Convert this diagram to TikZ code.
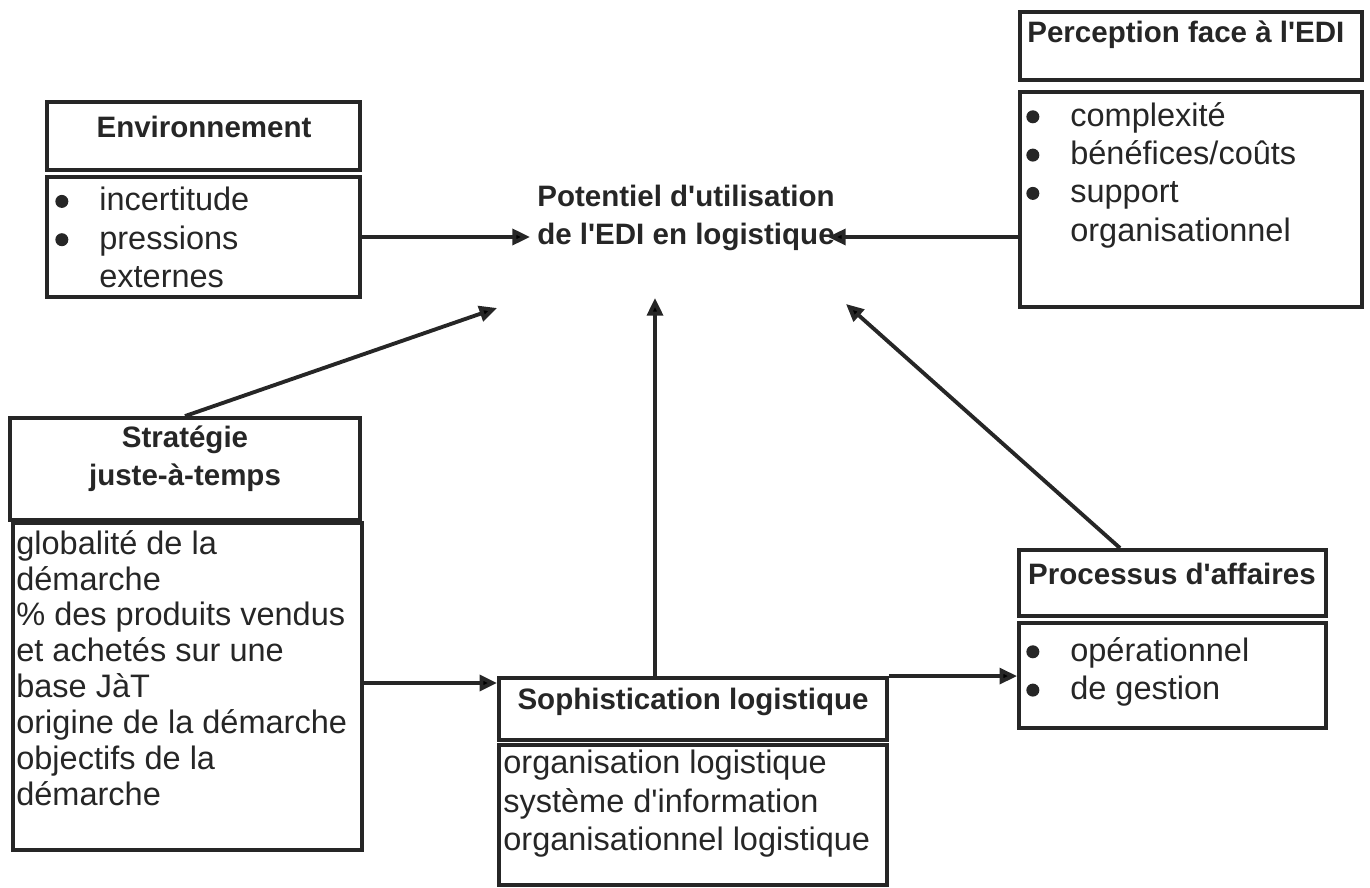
\documentclass[tikz,border=0pt]{standalone}
\usepackage{fontspec}
\setmainfont{Liberation Sans}
\usetikzlibrary{arrows.meta, positioning, calc, fit}

\newcommand{\puce}{\makebox[0.92cm][l]{\hspace{0.04cm}\tikz[baseline=0pt, x=1pt, y=1pt]\fill[black!85] (0,5.4) circle[radius=3.7pt];}}
\newcommand{\retrait}{\makebox[0.92cm]{}}
\newcommand{\apos}{\textquotesingle}

\begin{document}
\begin{tikzpicture}[
    x=0.02cm, y=-0.02cm,
    >={Triangle[length=10pt, width=9pt]},
    box/.style={draw=black!85, line width=2.2pt, inner sep=0pt},
    headtxt/.style={font=\fontsize{16.8}{21.5}\selectfont\bfseries, align=center, inner sep=0pt, text=black!85},
    bodytxt/.style={font=\fontsize{18.5}{21.8}\selectfont, align=left, inner sep=0pt, anchor=north west, text=black!85},
    arr/.style={draw=black!85, line width=2.2pt, ->}
]
\useasboundingbox (0,0) rectangle (1370,888);

% ==================== CENTRE ====================
\node[headtxt] (potentiel) at (686,218) {Potentiel d\apos utilisation\\de l\apos EDI en logistique};
\coordinate (potW) at (530,237);
\coordinate (potE) at (828,237);
\coordinate (potSW) at (497,308);
\coordinate (potS) at (655,298);
\coordinate (potSE) at (846,304);

% ==================== ENVIRONNEMENT ====================
\node[box, fit={(47,102) (360,170)}] (envhead) {};
\node[box, fit={(47,177) (360,297)}] (envbody) {};
\node[headtxt] (envtitle) at (204,127) {Environnement};
\node[bodytxt] (envlist) at (53,187) {\puce incertitude\\ \puce pressions\\ \retrait externes};

\draw[arr] (envbody.east) -- (potW);

% ==================== PERCEPTION ====================
\node[box, fit={(1020,12) (1362,80)}] (perchead) {};
\node[box, fit={(1020,92) (1362,307)}] (percbody) {};
\node[headtxt, anchor=west] (perctitle) at (1027,35) {Perception face à l\apos EDI};
\node[bodytxt] (perclist) at (1024,102) {\puce complexité\\ \puce bénéfices/coûts\\ \puce support\\ \retrait organisationnel};

\draw[arr] (percbody.west |- potE) -- (potE);

% ==================== STRATEGIE JAT ====================
\node[box, fit={(10,418) (360,520)}] (strathead) {};
\node[box, fit={(13,523) (362,850)}] (stratbody) {};
\node[headtxt] (strattitle) at (185,459) {Stratégie\\juste-à-temps};
\node[bodytxt, font=\fontsize{18.5}{20.4}\selectfont] (stratlist) at (16,530) {globalité de la\\démarche\\\% des produits vendus\\et achetés sur une\\base JàT\\origine de la démarche\\objectifs de la\\démarche};

\draw[arr] (strathead.north) -- (potSW);

% ==================== SOPHISTICATION ====================
\node[box, fit={(499,678) (887,740)}] (sophhead) {};
\node[box, fit={(499,745) (887,885)}] (sophbody) {};
\node[headtxt] (sophtitle) at (693,702) {Sophistication logistique};
\node[bodytxt] (sophlist) at (503,750) {organisation logistique\\système d\apos information\\organisationnel logistique};

\draw[arr] (stratbody.east |- 0,683) -- (sophhead.west |- 0,683);
\draw[arr] (sophhead.north -| potS) -- (potS);

% ==================== PROCESSUS ====================
\node[box, fit={(1019,550) (1326,616)}] (prochead) {};
\node[box, fit={(1019,623) (1326,728)}] (procbody) {};
\node[headtxt] (proctitle) at (1172,574) {Processus d\apos affaires};
\node[bodytxt] (proclist) at (1024,637) {\puce opérationnel\\ \puce de gestion};

\draw[arr] (sophhead.north east) -- (sophhead.north east -| procbody.west);
\draw[arr] (prochead.north -| 1120,0) -- (potSE);

\end{tikzpicture}
\end{document}
